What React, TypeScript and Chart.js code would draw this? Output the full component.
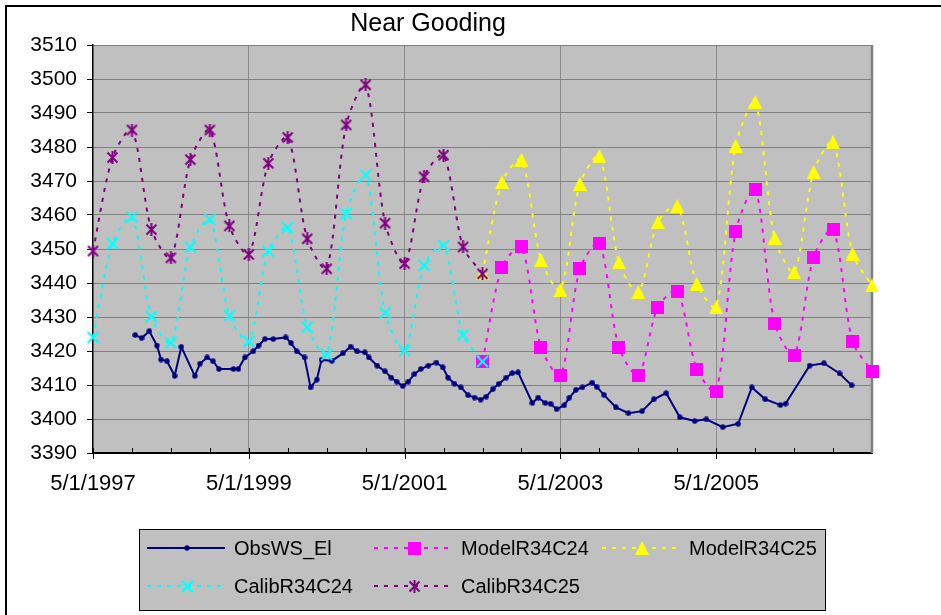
import React, { useEffect, useRef } from "react";
import { Chart, registerables } from "chart.js";

Chart.register(...registerables);

const FONT = '"Liberation Sans", Arial, sans-serif';
const TITLE = "Near Gooding";
const X_TICK_LABELS = ["5/1/1997", "5/1/1999", "5/1/2001", "5/1/2003", "5/1/2005"];
const Y_MIN = 3390;
const Y_MAX = 3510;
const Y_STEP = 10;

const SERIES_NAMES = ["ObsWS_El", "ModelR34C24", "ModelR34C25", "CalibR34C24", "CalibR34C25"];

const obsDates = [
  "1997-11-16", "1997-12-16", "1998-01-22", "1998-02-25", "1998-03-16", "1998-04-13", "1998-05-19", "1998-06-19",
  "1998-08-22", "1998-09-16", "1998-10-19", "1998-11-16", "1998-12-13", "1999-02-19", "1999-03-13", "1999-04-13",
  "1999-05-22", "1999-06-16", "1999-07-16", "1999-08-25", "1999-10-22", "1999-11-16", "1999-12-13", "2000-01-19",
  "2000-02-16", "2000-03-16", "2000-04-07", "2000-05-25", "2000-07-16", "2000-08-22", "2000-09-22", "2000-10-28",
  "2000-11-16", "2000-12-25", "2001-02-01", "2001-02-27", "2001-03-25", "2001-04-22", "2001-05-19", "2001-06-16",
  "2001-07-16", "2001-08-22", "2001-09-28", "2001-10-28", "2001-11-22", "2001-12-22", "2002-01-22", "2002-02-23",
  "2002-03-25", "2002-04-22", "2002-05-19", "2002-06-19", "2002-07-16", "2002-08-22", "2002-09-19", "2002-10-16",
  "2002-12-22", "2003-01-19", "2003-02-20", "2003-03-16", "2003-04-13", "2003-05-19", "2003-06-13", "2003-07-13",
  "2003-08-13", "2003-09-28", "2003-10-19", "2003-11-22", "2004-01-19", "2004-03-16", "2004-05-19", "2004-07-13",
  "2004-09-10", "2004-11-13", "2005-01-22", "2005-03-16", "2005-06-01", "2005-08-13", "2005-10-16", "2005-12-19",
  "2006-02-26", "2006-03-22", "2006-07-13", "2006-09-19", "2006-12-01", "2007-01-28",
];
const obsValues = [
  3424.7, 3423.8, 3425.8, 3421.6, 3417.5, 3417.0, 3412.7, 3421.2,
  3412.7, 3416.3, 3418.1, 3417.0, 3414.7, 3414.7, 3414.7, 3418.1,
  3419.9, 3421.6, 3423.5, 3423.5, 3424.0, 3422.4, 3419.9, 3418.1,
  3409.3, 3411.6, 3417.4, 3417.1, 3419.3, 3421.3, 3419.9, 3419.6,
  3418.1, 3415.7, 3414.0, 3412.2, 3411.0, 3409.7, 3411.0, 3413.2,
  3414.7, 3415.7, 3416.6, 3415.2, 3412.2, 3410.4, 3409.3, 3407.0,
  3406.3, 3405.7, 3406.6, 3408.8, 3410.3, 3412.2, 3413.5, 3413.7,
  3404.7, 3406.3, 3404.7, 3404.5, 3402.9, 3404.0, 3406.3, 3408.6,
  3409.3, 3410.7, 3409.5, 3407.1, 3403.4, 3401.7, 3402.3, 3405.8,
  3407.6, 3400.5, 3399.4, 3399.9, 3397.6, 3398.6, 3409.3, 3405.8,
  3404.1, 3404.5, 3415.7, 3416.4, 3413.4, 3409.9,
];

const calibDates = [
  "1997-05-01", "1997-08-01", "1997-11-01", "1998-02-01", "1998-05-01", "1998-08-01", "1998-11-01",
  "1999-02-01", "1999-05-01", "1999-08-01", "1999-11-01", "2000-02-01", "2000-05-01", "2000-08-01",
  "2000-11-01", "2001-02-01", "2001-05-01", "2001-08-01", "2001-11-01", "2002-02-01", "2002-05-01",
];
const calibR34C24 = [
  3424.0, 3451.6, 3459.4, 3430.1, 3422.4, 3450.6, 3458.7, 3430.4, 3422.8, 3449.4, 3456.3,
  3427.0, 3418.9, 3460.4, 3471.7, 3431.2, 3420.1, 3445.2, 3451.1, 3424.7, 3416.9,
];
const calibR34C25 = [
  3449.4, 3476.9, 3485.0, 3455.7, 3447.4, 3476.3, 3485.0, 3456.8, 3448.4, 3475.2, 3482.8,
  3453.0, 3444.2, 3486.5, 3498.3, 3457.6, 3445.7, 3471.2, 3477.6, 3450.6, 3442.7,
];

const modelDates = [
  "2002-05-01", "2002-08-01", "2002-11-01", "2003-02-01", "2003-05-01", "2003-08-01", "2003-11-01",
  "2004-02-01", "2004-05-01", "2004-08-01", "2004-11-01", "2005-02-01", "2005-05-01", "2005-08-01",
  "2005-11-01", "2006-02-01", "2006-05-01", "2006-08-01", "2006-11-01", "2007-02-01", "2007-05-01",
];
const modelR34C24 = [
  3416.9, 3444.7, 3450.6, 3421.1, 3412.7, 3444.2, 3451.7, 3421.1, 3412.9, 3432.9, 3437.6,
  3414.7, 3408.1, 3455.2, 3467.6, 3428.1, 3418.8, 3447.6, 3455.8, 3422.8, 3414.0,
];
const modelR34C25 = [
  3442.8, 3469.7, 3476.3, 3446.8, 3438.0, 3469.2, 3477.3, 3446.1, 3437.3, 3457.9, 3462.7,
  3439.8, 3432.9, 3480.4, 3493.3, 3453.3, 3443.2, 3472.7, 3481.5, 3448.6, 3439.3,
];

// months since 5/1/1997
function monthIndex(d: string): number {
  const [y, m, day] = d.split("-").map(Number);
  const dim = new Date(Date.UTC(y, m, 0)).getUTCDate();
  return (y - 1997) * 12 + (m - 5) + (day - 1) / dim;
}

function toPoints(dates: string[], values: number[]) {
  return dates.map((d, i) => ({ x: monthIndex(d), y: values[i] }));
}

type MarkerKind = "dot" | "square" | "triangle" | "x" | "asterisk";

function makeMarker(kind: MarkerKind, color: string, size: number): HTMLCanvasElement {
  const c = document.createElement("canvas");
  c.width = size;
  c.height = size;
  const g = c.getContext("2d")!;
  const m = size / 2;
  g.fillStyle = color;
  g.strokeStyle = color;
  g.lineCap = "butt";
  if (kind === "dot") {
    g.beginPath();
    g.arc(m, m, m - 0.3, 0, Math.PI * 2);
    g.fill();
  } else if (kind === "square") {
    g.fillRect(0, 0, size, size);
  } else if (kind === "triangle") {
    g.beginPath();
    g.moveTo(m, 0);
    g.lineTo(size, size);
    g.lineTo(0, size);
    g.closePath();
    g.fill();
  } else if (kind === "x") {
    g.lineWidth = 2;
    g.beginPath();
    g.moveTo(1, 1);
    g.lineTo(size - 1, size - 1);
    g.moveTo(size - 1, 1);
    g.lineTo(1, size - 1);
    g.stroke();
  } else {
    g.lineWidth = 2;
    g.beginPath();
    g.moveTo(1.5, 1.5);
    g.lineTo(size - 1.5, size - 1.5);
    g.moveTo(size - 1.5, 1.5);
    g.lineTo(1.5, size - 1.5);
    g.moveTo(m, 0);
    g.lineTo(m, size);
    g.stroke();
  }
  return c;
}

export default function App() {
  const ref = useRef<HTMLCanvasElement | null>(null);

  useEffect(() => {
    if (!ref.current) return;

    const markers = [
      makeMarker("dot", "#000080", 6),
      makeMarker("square", "#FF00FF", 13),
      makeMarker("triangle", "#FFFF00", 14),
      makeMarker("x", "#00FFFF", 13),
      makeMarker("asterisk", "#800080", 13),
    ];
    const colors = ["#000080", "#FF00FF", "#FFFF00", "#00FFFF", "#800080"];
    const dashes: number[][] = [[], [4, 6], [4, 6], [4, 6], [4, 6]];
    const orders = [4, 3, 2, 1, 0];
    const seriesData = [
      toPoints(obsDates, obsValues),
      toPoints(modelDates, modelR34C24),
      toPoints(modelDates, modelR34C25),
      toPoints(calibDates, calibR34C24),
      toPoints(calibDates, calibR34C25),
    ];

    const datasets = seriesData.map((data, i) => ({
      label: SERIES_NAMES[i],
      data,
      borderColor: colors[i],
      backgroundColor: colors[i],
      borderWidth: 2,
      borderDash: dashes[i],
      tension: i === 0 ? 0 : 0.28,
      pointStyle: markers[i] as any,
      pointRadius: 5,
      order: orders[i],
      clip: false as any,
    }));

    const legendLayout = [
      { ds: 0, col: 0, row: 0 },
      { ds: 1, col: 1, row: 0 },
      { ds: 2, col: 2, row: 0 },
      { ds: 3, col: 0, row: 1 },
      { ds: 4, col: 1, row: 1 },
    ];

    const decor = {
      id: "decor",
      beforeDraw(chart: any) {
        const { ctx, chartArea: a } = chart;
        ctx.save();
        ctx.fillStyle = "#ffffff";
        ctx.fillRect(0, 0, chart.width, chart.height);
        ctx.fillStyle = "#C0C0C0";
        ctx.fillRect(a.left, a.top, a.right - a.left, a.bottom - a.top);
        ctx.restore();
      },
      beforeDatasetsDraw(chart: any) {
        const { ctx, chartArea: a } = chart;
        const xs = chart.scales.x;
        ctx.save();
        ctx.strokeStyle = "#808080";
        ctx.lineWidth = 2.5;
        ctx.beginPath();
        ctx.moveTo(a.right, a.top);
        ctx.lineTo(a.right, a.bottom);
        ctx.stroke();
        ctx.strokeStyle = "#000";
        ctx.lineWidth = 1;
        xs.ticks.forEach((t: any) => {
          const v = t.value;
          if (v >= 120) return;
          const px = Math.round(xs.getPixelForValue(v)) + 0.5;
          ctx.beginPath();
          ctx.moveTo(px, a.bottom - 5);
          ctx.lineTo(px, v % 24 === 0 ? a.bottom + 6 : a.bottom);
          ctx.stroke();
        });
        ctx.restore();
      },
      afterDraw(chart: any) {
        const { ctx } = chart;
        ctx.save();
        ctx.strokeStyle = "#000";
        ctx.lineWidth = 2;
        ctx.strokeRect(6, 6, chart.width + 20, chart.height + 20);
        ctx.fillStyle = "#000";
        ctx.font = `25px ${FONT}`;
        ctx.textAlign = "center";
        ctx.textBaseline = "alphabetic";
        ctx.fillText(TITLE, 428, 31);
        ctx.fillStyle = "#C0C0C0";
        ctx.fillRect(139.5, 529.5, 686, 81);
        ctx.strokeStyle = "#000";
        ctx.lineWidth = 1;
        ctx.strokeRect(139.5, 529.5, 686, 81);
        const colX = [147, 374, 602];
        const rowY = [548, 586];
        legendLayout.forEach(({ ds, col, row }) => {
          const x0 = colX[col];
          const y = rowY[row];
          const d = chart.data.datasets[ds];
          ctx.strokeStyle = d.borderColor;
          ctx.lineWidth = 2;
          ctx.setLineDash(d.borderDash || []);
          ctx.beginPath();
          ctx.moveTo(x0, y);
          ctx.lineTo(x0 + 78, y);
          ctx.stroke();
          ctx.setLineDash([]);
          const mk = d.pointStyle as HTMLCanvasElement;
          ctx.drawImage(mk, Math.round(x0 + 40 - mk.width / 2), Math.round(y - mk.height / 2));
          ctx.fillStyle = "#000";
          ctx.font = `20px ${FONT}`;
          ctx.textAlign = "left";
          ctx.textBaseline = "middle";
          ctx.fillText(d.label, x0 + 87, y + 1);
        });
        ctx.restore();
      },
    };

    const chart = new Chart(ref.current, {
      type: "line",
      data: { datasets: datasets as any },
      options: {
        animation: false,
        responsive: false,
        events: [],
        layout: { padding: { left: 0, top: 45, right: 69, bottom: 112 } },
        plugins: {
          legend: { display: false },
          title: { display: false },
          tooltip: { enabled: false },
        },
        scales: {
          x: {
            type: "linear",
            min: 0,
            max: 120,
            ticks: {
              stepSize: 6,
              autoSkip: false,
              maxRotation: 0,
              minRotation: 0,
              padding: 18,
              color: "#000",
              font: { family: FONT, size: 22 },
              callback: (v: any) => {
                const n = Number(v);
                if (n % 24 !== 0) return "";
                const idx = n / 24;
                return idx < X_TICK_LABELS.length ? X_TICK_LABELS[idx] : "";
              },
            },
            grid: {
              color: (c: any) => {
                const v = c.tick ? c.tick.value : -1;
                return v > 0 && v < 120 && v % 24 === 0 ? "#8c8c8c" : "rgba(0,0,0,0)";
              },
              lineWidth: 1,
              drawTicks: false,
            },
            border: { display: true, color: "#000", width: 2 },
            afterFit: (s: any) => {
              s.height = 50;
            },
          },
          y: {
            min: Y_MIN,
            max: Y_MAX,
            ticks: {
              stepSize: Y_STEP,
              padding: 10,
              color: "#000",
              font: { family: FONT, size: 21 },
              callback: (v: any) => String(Math.round(Number(v))),
            },
            grid: {
              color: "#808080",
              lineWidth: 1,
              drawTicks: true,
              tickLength: 6,
              tickColor: "#000",
            },
            border: { display: true, color: "#000", width: 1.5 },
            afterFit: (s: any) => {
              s.width = 93;
            },
          },
        },
      },
      plugins: [decor as any],
    });

    return () => chart.destroy();
  }, []);

  return (
    <div
      style={{
        position: "absolute",
        left: 0,
        top: 0,
        width: 941,
        height: 615,
        overflow: "hidden",
        background: "#fff",
      }}
    >
      <canvas ref={ref} width={941} height={615} style={{ display: "block" }} />
    </div>
  );
}
